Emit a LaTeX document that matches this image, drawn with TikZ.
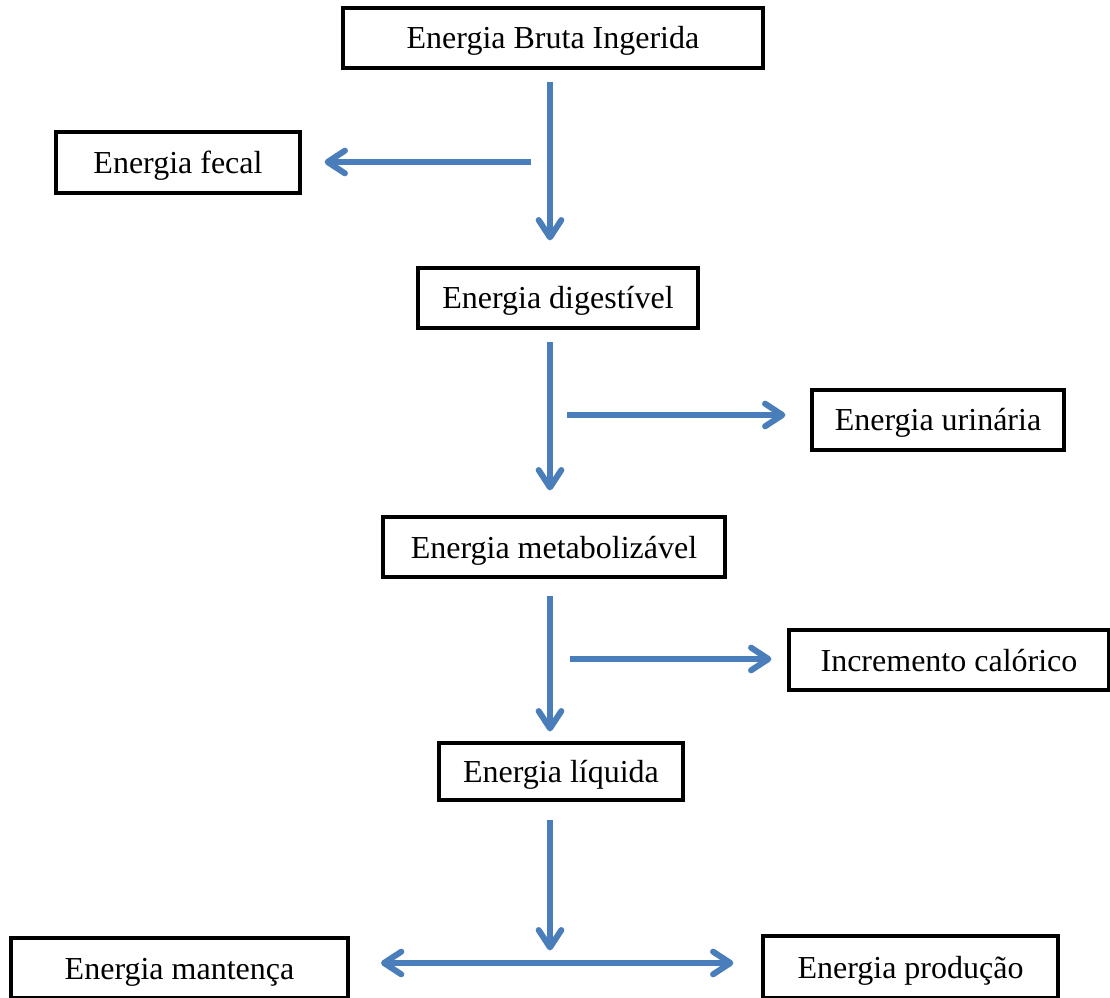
\documentclass[tikz,border=0pt]{standalone}
\usepackage{fontspec}
\setmainfont{Liberation Serif}
\usetikzlibrary{arrows.meta}
\definecolor{flowblue}{HTML}{4A7EBB}

\begin{document}
\begin{tikzpicture}[x=0.75pt,y=-0.75pt]
\tikzstyle{box}=[draw,line width=2.4pt,minimum height=45pt,inner sep=0pt,text height=21.5pt,text depth=5pt,font=\fontsize{24}{28}\selectfont];
\tikzstyle{flow}=[draw=flowblue,line width=4.5pt,-{Straight Barb[round,length=13pt,width=17pt,line width=4.5pt]}];
\useasboundingbox (0,0) rectangle (1110,998);
\node[box,minimum width=315pt] (bruta) at (553,38) {Energia Bruta Ingerida};
\node[box,minimum width=183pt,minimum height=45.75pt] (fecal) at (178,162.5) {Energia fecal};
\node[box,minimum width=210pt] (digest) at (558,298) {Energia digestível};
\node[box,minimum width=189pt] (urina) at (938,420) {Energia urinária};
\node[box,minimum width=256.5pt] (metab) at (554,547) {Energia metabolizável};
\node[box,minimum width=240pt] (increm) at (949,660) {Incremento calórico};
\node[box,minimum width=183pt,minimum height=42.75pt] (liquida) at (561,771.5) {Energia líquida};
\node[box,minimum width=252.75pt] (mantenca) at (179.5,968) {Energia mantença};
\node[box,minimum width=221.25pt,minimum height=46.5pt] (producao) at (910.5,967) {Energia produção};
\coordinate (t1) at (550,82);
\coordinate (t2) at (550,342);
\coordinate (t3) at (550,596);
\coordinate (t4) at (550,820);
\coordinate (b1) at (531,162);
\coordinate (b2) at (567,415);
\coordinate (b3) at (570,659);
\coordinate (b4) at (381,963);
\path[flow] (t1) -- ([yshift=19.5pt]digest.north -| t1);
\path[flow] (b1) -- ([xshift=17.25pt]fecal.east |- b1);
\path[flow] (t2) -- ([yshift=18.75pt]metab.north -| t2);
\path[flow] (b2) -- ([xshift=-18.75pt]urina.west |- b2);
\path[flow] (t3) -- ([yshift=7.5pt]liquida.north -| t3);
\path[flow] (b3) -- ([xshift=-12pt]increm.west |- b3);
\path[flow] (t4) -- ([yshift=-10.5pt]mantenca.north -| t4);
\path[flow,{Straight Barb[round,length=13pt,width=17pt,line width=4.5pt]}-{Straight Barb[round,length=13pt,width=17pt,line width=4.5pt]}] (b4) -- ([xshift=-21pt]producao.west |- b4);
\end{tikzpicture}
\end{document}
